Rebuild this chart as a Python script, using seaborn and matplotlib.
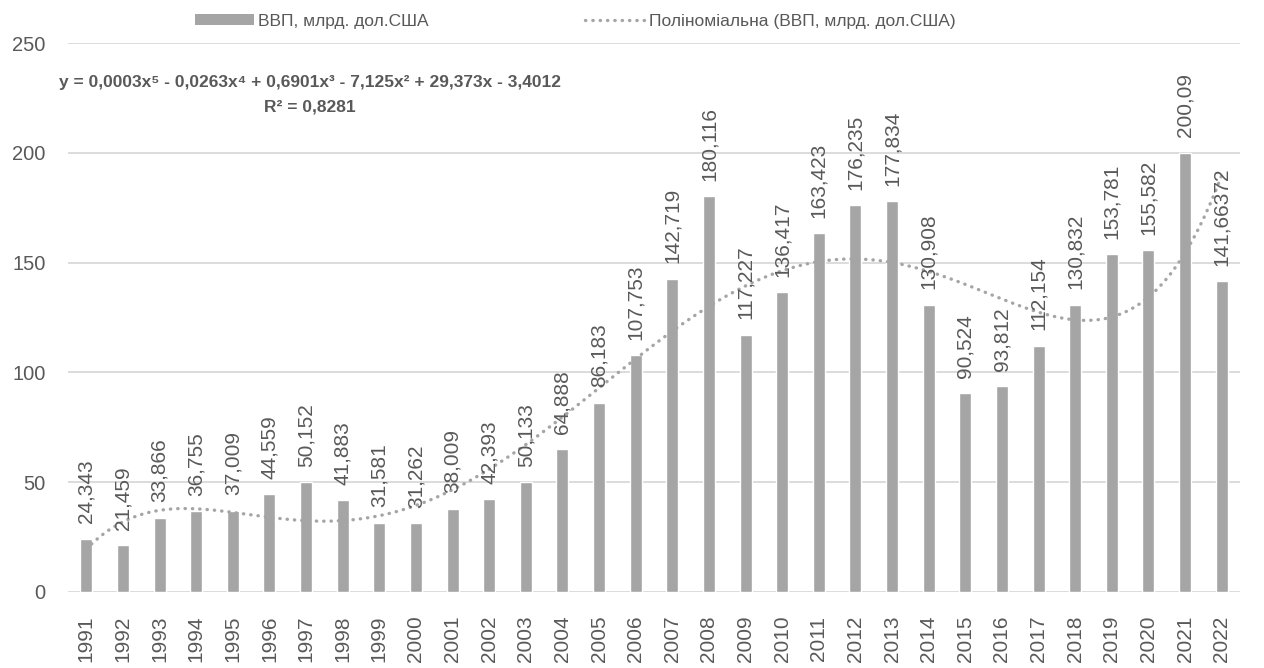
import numpy as np
import matplotlib
matplotlib.use("Agg")
import matplotlib.pyplot as plt
from matplotlib.patches import Patch
from matplotlib.lines import Line2D
import seaborn as sns

years = list(range(1991, 2023))
gdp = [24.343, 21.459, 33.866, 36.755, 37.009, 44.559, 50.152, 41.883, 31.581, 31.262,
       38.009, 42.393, 50.133, 64.888, 86.183, 107.753, 142.719, 180.116, 117.227, 136.417,
       163.423, 176.235, 177.834, 130.908, 90.524, 93.812, 112.154, 130.832, 153.781, 155.582,
       200.09, 141.66372]
bar_name = "ВВП, млрд. дол.США"
trend_name = "Поліноміальна (ВВП, млрд. дол.США)"
equation = "y = 0,0003x⁵ - 0,0263x⁴ + 0,6901x³ - 7,125x² + 29,373x - 3,4012\nR² = 0,8281"

bar_color = "#A5A5A5"
text_color = "#595959"
grid_color = "#D9D9D9"

sns.set_style("white")
plt.rcParams['font.family'] = ['Liberation Sans', 'DejaVu Sans']

fig = plt.figure(figsize=(12.64, 6.68), dpi=100)
ax = fig.add_axes([0.0538, 0.1138, 0.9272, 0.8218])

sns.barplot(x=[str(y) for y in years], y=gdp, color=bar_color, saturation=1,
            width=0.33, ax=ax)

# polynomial trend (degree 5), fitted like Excel does on x = 1..n
xn = np.arange(1, len(gdp) + 1)
coef = np.polyfit(xn, gdp, 5)
xs = np.linspace(1, len(gdp), 400)
trend_style = dict(color=bar_color, lw=2.4, linestyle=(0, (0.1, 2.1)), dash_capstyle="round")
ax.plot(xs - 1, np.polyval(coef, xs), **trend_style)

labels = [str(v).replace(".", ",") for v in gdp]
ax.bar_label(ax.containers[0], labels=labels, rotation=90, padding=11,
             fontsize=15, color=text_color)

ax.set_ylim(0, 250)
ax.set_xlim(-0.5, len(gdp) - 0.5)
ax.set_yticks(range(0, 251, 50))
ax.yaxis.grid(True, color=grid_color, lw=1.3)
ax.set_axisbelow(True)
for s in ax.spines.values():
    s.set_visible(False)
ax.tick_params(axis="y", length=0, pad=16, labelsize=14.5, labelcolor=text_color)
ax.tick_params(axis="x", length=0, pad=17, labelsize=15, labelcolor=text_color, rotation=90)
ax.set_xlabel("")
ax.set_ylabel("")

ax.text(6.1, 226.5, equation, ha="center", va="center", fontsize=12.5, fontweight="bold",
        color=text_color, linespacing=1.85)

handles = [Patch(facecolor=bar_color, edgecolor="none"), Line2D([], [], **trend_style)]
fig.legend(handles, [bar_name, trend_name], loc="upper center", bbox_to_anchor=(0.455, 1.003),
           ncol=2, frameon=False, fontsize=12.5, handlelength=3.4, handleheight=0.6,
           columnspacing=9.0, labelcolor=text_color, handletextpad=0.25)

fig.savefig("out.png", dpi=100)
